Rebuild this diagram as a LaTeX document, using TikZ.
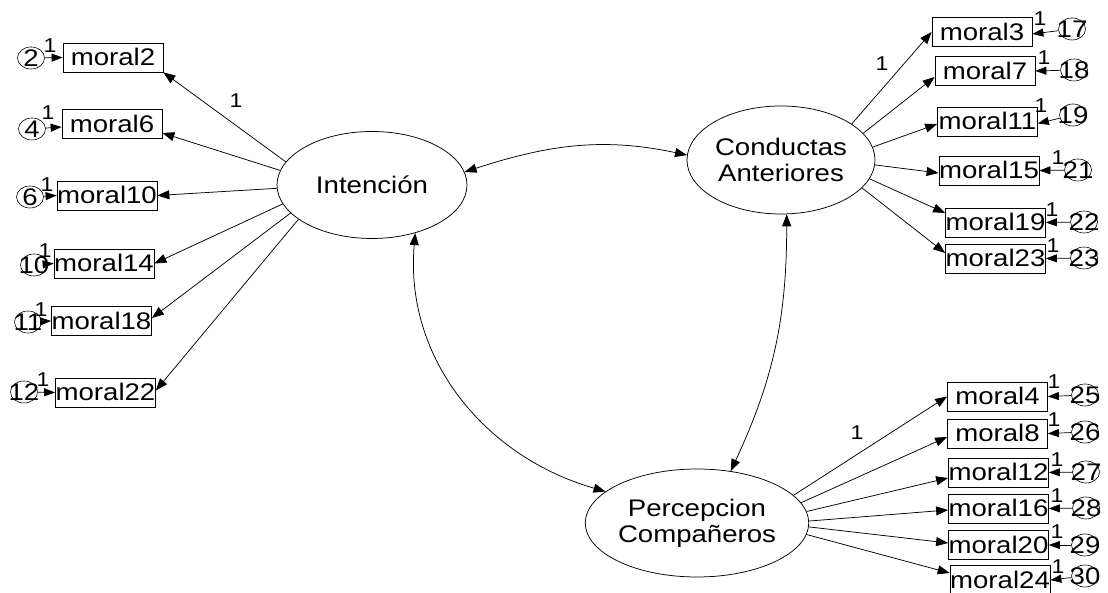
\documentclass[tikz,border=0pt]{standalone}
\usepackage{fontspec}
\newfontfamily\amos{Liberation Sans}[FakeStretch=1.15]
\usetikzlibrary{shapes.geometric, arrows.meta}

\begin{document}
\begin{tikzpicture}[x=1pt, y=1pt,
  >={Triangle[length=12pt,width=9pt]},
  every node/.style={font=\amos\fontsize{24}{26}\selectfont},
  latent/.style={ellipse, draw, line width=0.75pt, minimum width=190pt, minimum height=107pt, inner sep=0pt, align=center},
  obs/.style={rectangle, draw, line width=0.75pt, minimum width=100pt, minimum height=29pt, inner sep=0pt, text height=17pt, text depth=0pt},
  err/.style={ellipse, draw, line width=0.6pt, minimum width=27pt, minimum height=22pt, inner sep=0pt},
  wlab/.style={font=\amos\fontsize{20}{22}\selectfont, inner sep=0pt},
  load/.style={->, line width=0.75pt},
  eload/.style={-{Triangle[length=11pt,width=8pt]}, line width=0.7pt},
  cov/.style={<->, line width=0.75pt}]

\clip (0,0) rectangle (1108,593);
\fill[white] (0,0) rectangle (1108,593);

% latent factors
\node[latent] (int) at (372,408) {Intención};
\node[latent, minimum width=188pt, minimum height=108pt] (ca) at (781,433) {Conductas\\Anteriores};
\node[latent, minimum width=188pt, minimum height=108pt] (pc) at (697,70) {Percepcion\\Compañeros};

% indicators of Intención
\node[obs] (m2)  at (113,535.5) {moral2};
\node[obs] (m6)  at (112,469)   {moral6};
\node[obs] (m10) at (107,397.5) {moral10};
\node[obs] (m14) at (104,329.5) {moral14};
\node[obs] (m18) at (101.5,272) {moral18};
\node[obs] (m22) at (105.5,200.5) {moral22};

% indicators of Conductas Anteriores
\node[obs] (m3)  at (982,561)     {moral3};
\node[obs] (m7)  at (985,522)     {moral7};
\node[obs] (m11) at (987.5,471.5) {moral11};
\node[obs] (m15) at (989,422.5)   {moral15};
\node[obs] (m19) at (995.5,370.5) {moral19};
\node[obs] (m23) at (995.5,334.5) {moral23};

% indicators of Percepcion Compañeros
\node[obs] (m4)  at (997.5,196.5) {moral4};
\node[obs] (m8)  at (997.5,159.5) {moral8};
\node[obs] (m12) at (998.5,120.5) {moral12};
\node[obs] (m16) at (998.5,84.5)  {moral16};
\node[obs] (m20) at (998.5,48)    {moral20};
\node[obs] (m24) at (1000,13)     {moral24};

% error terms
\node[err, label={center:2}]  (e2)  at (31,535) {};
\node[err, label={center:4}]  (e4)  at (32,464) {};
\node[err, label={center:6}]  (e6)  at (30,396) {};
\node[err, label={center:10}] (e10) at (34,328) {};
\node[err, label={center:11}] (e11) at (28,271) {};
\node[err, label={center:12}] (e12) at (24,201) {};
\node[err, label={center:17}] (e17) at (1072,564) {};
\node[err, label={center:18}] (e18) at (1074,523) {};
\node[err, label={center:19}] (e19) at (1073,478) {};
\node[err, label={center:21}] (e21) at (1078,423) {};
\node[err, label={center:22}] (e22) at (1084,371) {};
\node[err, label={center:23}] (e23) at (1084,335) {};
\node[err, label={center:25}] (e25) at (1085,198) {};
\node[err, label={center:26}] (e26) at (1085,161) {};
\node[err, label={center:27}] (e27) at (1086,121) {};
\node[err, label={center:28}] (e28) at (1086,85)  {};
\node[err, label={center:29}] (e29) at (1085,48)  {};
\node[err, label={center:30}] (e30) at (1085,17)  {};

% error paths
\draw[eload] (e2)  -- (m2.west);
\draw[eload] (e4)  -- ([yshift=-3pt]m6.west);
\draw[eload] (e6)  -- (m10.west);
\draw[eload] (e10) -- (m14.west);
\draw[eload] (e11) -- (m18.west);
\draw[eload] (e12) -- (m22.west);
\draw[eload] (e17) -- ([yshift=-2pt]m3.east);
\draw[eload] (e18) -- (m7.east);
\draw[eload] (e19) -- ([yshift=-2pt]m11.east);
\draw[eload] (e21) -- (m15.east);
\draw[eload] (e22) -- (m19.east);
\draw[eload] (e23) -- (m23.east);
\draw[eload] (e25) -- (m4.east);
\draw[eload] (e26) -- (m8.east);
\draw[eload] (e27) -- (m12.east);
\draw[eload] (e28) -- (m16.east);
\draw[eload] (e29) -- (m20.east);
\draw[eload] (e30) -- (m24.east);

% fixed error weights
\node[wlab] (w2)  at (50,547)   {1};
\node[wlab] (w4)  at (48,480)   {1};
\node[wlab] (w6)  at (47,408)   {1};
\node[wlab] (w10) at (45,342)   {1};
\node[wlab] (w11) at (41,283)   {1};
\node[wlab] (w12) at (43,213)   {1};
\node[wlab] (w17) at (1040,574) {1};
\node[wlab] (w18) at (1044,535) {1};
\node[wlab] (w19) at (1041,487) {1};
\node[wlab] (w21) at (1058,435) {1};
\node[wlab] (w22) at (1052,383) {1};
\node[wlab] (w23) at (1053,347) {1};
\node[wlab] (w25) at (1054,211) {1};
\node[wlab] (w26) at (1054,173) {1};
\node[wlab] (w27) at (1057,133) {1};
\node[wlab] (w28) at (1057,97)  {1};
\node[wlab] (w29) at (1057,61)  {1};
\node[wlab] (w30) at (1058,26)  {1};

% factor loadings
\draw[load] (int.165) -- (m2.south east);
\draw[load] (int.171) -- ([yshift=-9pt]m6.east);
\draw[load] (int.182) -- (m10.east);
\draw[load] (int.192) -- (m14.east);
\draw[load] (int.199) -- ([yshift=3pt]m18.east);
\draw[load] (int.205) -- ([yshift=2pt]m22.east);

\draw[load] (ca.27)  -- (m3.west);
\draw[load] (ca.18)  -- ([yshift=-6pt]m7.west);
\draw[load] (ca.8)   -- ([yshift=-2.5pt]m11.west);
\draw[load] (ca.-3)  -- ([yshift=-2.5pt]m15.west);
\draw[load] (ca.-12) -- ([yshift=9.5pt]m19.west);
\draw[load] (ca.-19) -- ([yshift=5.5pt]m23.west);

\draw[load] (pc.16)   -- (m4.west);
\draw[load] (pc.11)   -- ([yshift=-3.5pt]m8.west);
\draw[load] (pc.6)    -- ([yshift=-5.5pt]m12.west);
\draw[load] (pc.1)    -- ([yshift=-1.5pt]m16.west);
\draw[load] (pc.-2.5) -- ([yshift=2pt]m20.west);
\draw[load] (pc.-6)   -- ([yshift=7pt]m24.west);

% fixed loadings
\node[wlab] (f1) at (236,492) {1};
\node[wlab] (f2) at (882,529) {1};
\node[wlab] (f3) at (857,160) {1};

% factor covariances
\draw[cov] (int.8) to[out=18, in=168] (ca.177);
\draw[cov] (int.-48) to[out=-95, in=164] (pc.161);
\draw[cov] (ca.-84) to[out=-90, in=65] (pc.57);
\end{tikzpicture}
\end{document}
